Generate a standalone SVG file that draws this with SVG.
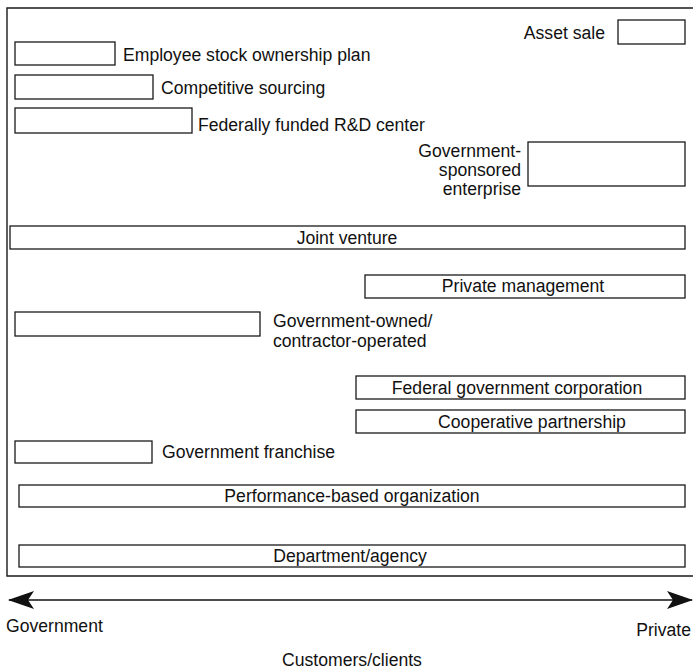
<svg xmlns="http://www.w3.org/2000/svg" width="693" height="669" viewBox="0 0 693 669">
<style>
text{font-family:"Liberation Sans",Arial,sans-serif;font-size:17.6px;fill:#111}
.b{fill:#fff;stroke:#1a1a1a;stroke-width:1.3}
.m{text-anchor:middle}
.e{text-anchor:end}
</style>
<defs>
<marker id="ah" viewBox="0 0 26 18" refX="25" refY="9" markerWidth="26" markerHeight="18" markerUnits="userSpaceOnUse" orient="auto-start-reverse">
<path d="M26,9 L0,0 L6,9 L0,18 Z" fill="#111"/>
</marker>
</defs>
<rect width="693" height="669" fill="#fff"/>
<path d="M700,8 H7 V576 H700" fill="none" stroke="#1a1a1a" stroke-width="1.4"/>
<g id="esop"><rect class="b" x="15" y="42" width="100" height="23"/><text x="123" y="61">Employee stock ownership plan</text></g>
<g id="competitive"><rect class="b" x="15" y="75" width="138" height="24"/><text x="161" y="94">Competitive sourcing</text></g>
<g id="ffrdc"><rect class="b" x="15" y="108" width="177" height="25"/><text x="198" y="131">Federally funded R&amp;D center</text></g>
<g id="asset"><rect class="b" x="618" y="20" width="67" height="24"/><text class="e" x="605" y="39">Asset sale</text></g>
<g id="gse"><rect class="b" x="528" y="142" width="157" height="44"/><text class="e" x="521" y="157">Government-</text><text class="e" x="521" y="176">sponsored</text><text class="e" x="521" y="195">enterprise</text></g>
<g id="jv"><rect class="b" x="10" y="226" width="675" height="23"/><text class="m" x="347" y="244">Joint venture</text></g>
<g id="pm"><rect class="b" x="365" y="275" width="320" height="23"/><text class="m" x="523" y="292">Private management</text></g>
<g id="goco"><rect class="b" x="15" y="312" width="245" height="24"/><text x="273" y="327">Government-owned/</text><text x="273" y="347">contractor-operated</text></g>
<g id="fgc"><rect class="b" x="356" y="376" width="329" height="23"/><text class="m" x="517" y="394">Federal government corporation</text></g>
<g id="coop"><rect class="b" x="356" y="410" width="329" height="23"/><text class="m" x="532" y="428">Cooperative partnership</text></g>
<g id="franchise"><rect class="b" x="15" y="441" width="137" height="22"/><text x="162" y="458">Government franchise</text></g>
<g id="pbo"><rect class="b" x="19" y="485" width="666" height="22"/><text class="m" x="352" y="502">Performance-based organization</text></g>
<g id="dept"><rect class="b" x="19" y="545" width="666" height="22"/><text class="m" x="350" y="562">Department/agency</text></g>
<g id="connectors"><line x1="9" y1="600" x2="692" y2="600" stroke="#111" stroke-width="1.5" marker-start="url(#ah)" marker-end="url(#ah)"/></g>
<g id="axis-labels"><text x="6" y="632">Government</text><text class="e" x="691" y="636">Private</text><text class="m" x="352" y="666">Customers/clients</text></g>
</svg>
